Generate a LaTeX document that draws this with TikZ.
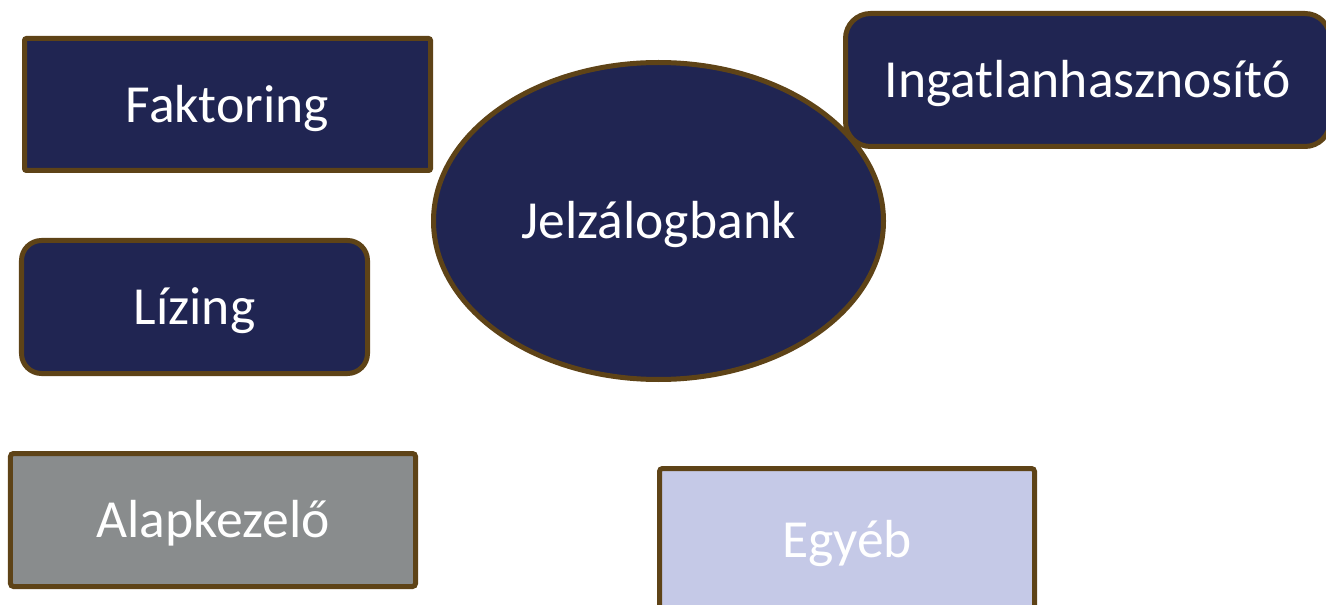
\documentclass[tikz,border=0pt]{standalone}
\usepackage{fontspec}
\setmainfont{Carlito}
\usetikzlibrary{shapes.geometric}
\definecolor{navy}{RGB}{32,37,82}
\definecolor{brownline}{RGB}{94,67,23}
\definecolor{grayfill}{RGB}{137,140,141}
\definecolor{lavender}{RGB}{197,201,231}
\tikzset{
  box/.style={draw=brownline, line width=0.1cm, fill=navy, text=white, inner sep=0pt, outer sep=0pt,
    font=\fontsize{30.5}{36}\selectfont, text height=26.2pt, text depth=6.1pt},
}
\begin{document}
\begin{tikzpicture}
\useasboundingbox (0,0) rectangle (26.52,-12.1);
\node[box, minimum width=8.12cm, minimum height=2.64cm, rounded corners=0.04cm] (fakt) at (4.55,-2.09) {Faktoring};
\node[box, minimum width=6.92cm, minimum height=2.66cm, rounded corners=0.4cm] (lizing) at (3.89,-6.14) {Lízing};
\node[box, fill=grayfill, minimum width=8.1cm, minimum height=2.66cm, rounded corners=0.06cm] (alap) at (4.26,-10.4) {Alapkezelő};
\node[box, fill=lavender, minimum width=7.5cm, minimum height=2.86cm, rounded corners=0.06cm] (egyeb) at (16.94,-10.8) {Egyéb};
\node[box, ellipse, minimum width=9.0cm, minimum height=6.34cm] (jelz) at (13.17,-4.42) {Jelzálogbank};
\node[box, minimum width=9.69cm, minimum height=2.66cm, rounded corners=0.5cm] (ingat) at (21.755,-1.6) {Ingatlanhasznosító};
\end{tikzpicture}
\end{document}
